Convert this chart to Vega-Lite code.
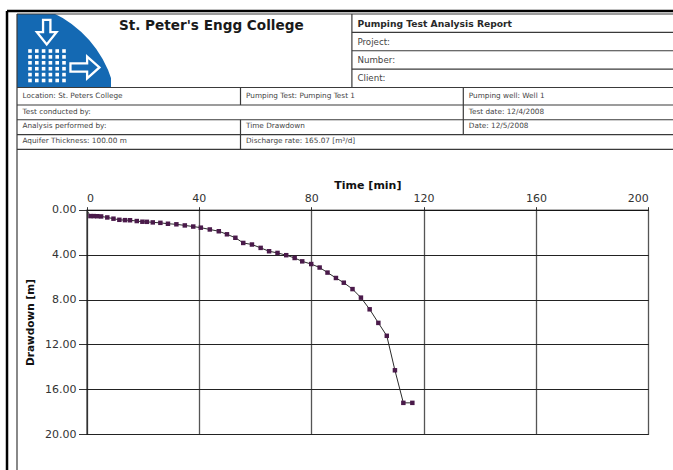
{
  "$schema": "https://vega.github.io/schema/vega-lite/v6.json",
  "width": 673,
  "height": 470,
  "autosize": "none",
  "padding": 0,
  "background": "white",
  "view": {"stroke": null, "fill": null},
  "config": {
    "view": {"stroke": null, "fill": null},
    "font": "DejaVu Sans",
    "axisRight": {"disable": true},
    "axisBottom": {"disable": true}
  },
  "datasets": {
    "drawdown": [
      {"t": 0, "s": 0}, {"t": 1.4, "s": 0.57}, {"t": 2.6, "s": 0.57}, {"t": 3.8, "s": 0.58}, {"t": 5.2, "s": 0.6},
      {"t": 7.4, "s": 0.69}, {"t": 9.6, "s": 0.8}, {"t": 11.7, "s": 0.9}, {"t": 13.7, "s": 0.93}, {"t": 15.5, "s": 0.94},
      {"t": 17.9, "s": 1.01}, {"t": 19.9, "s": 1.07}, {"t": 21.5, "s": 1.08}, {"t": 23.6, "s": 1.13}, {"t": 26.3, "s": 1.17},
      {"t": 29, "s": 1.25}, {"t": 32, "s": 1.3}, {"t": 35, "s": 1.4}, {"t": 38, "s": 1.5}, {"t": 40.7, "s": 1.6},
      {"t": 43.9, "s": 1.76}, {"t": 47.1, "s": 1.92}, {"t": 50, "s": 2.19}, {"t": 53, "s": 2.5}, {"t": 55.8, "s": 2.96},
      {"t": 58.9, "s": 3.1}, {"t": 62, "s": 3.4}, {"t": 65, "s": 3.7}, {"t": 68, "s": 3.85}, {"t": 71.1, "s": 4.05},
      {"t": 74.1, "s": 4.3}, {"t": 76.8, "s": 4.6}, {"t": 80, "s": 4.84}, {"t": 83, "s": 5.15}, {"t": 85.8, "s": 5.6},
      {"t": 88.8, "s": 6.08}, {"t": 91.6, "s": 6.5}, {"t": 94.7, "s": 7.07}, {"t": 97.7, "s": 7.83}, {"t": 100.8, "s": 8.87},
      {"t": 103.9, "s": 10.08}, {"t": 106.9, "s": 11.23}, {"t": 109.8, "s": 14.3}, {"t": 112.8, "s": 17.2}, {"t": 116, "s": 17.2}
    ],
    "logo": [{"name": "logo"}],
    "dots": [
      {"col": 0, "row": 0}, {"col": 1, "row": 0}, {"col": 2, "row": 0}, {"col": 3, "row": 0}, {"col": 4, "row": 0}, {"col": 5, "row": 0},
      {"col": 0, "row": 1}, {"col": 1, "row": 1}, {"col": 2, "row": 1}, {"col": 3, "row": 1}, {"col": 4, "row": 1}, {"col": 5, "row": 1},
      {"col": 0, "row": 2}, {"col": 1, "row": 2}, {"col": 2, "row": 2}, {"col": 3, "row": 2}, {"col": 4, "row": 2}, {"col": 5, "row": 2},
      {"col": 0, "row": 3}, {"col": 1, "row": 3}, {"col": 2, "row": 3}, {"col": 3, "row": 3}, {"col": 4, "row": 3}, {"col": 5, "row": 3},
      {"col": 0, "row": 4}, {"col": 1, "row": 4}, {"col": 2, "row": 4}, {"col": 3, "row": 4}, {"col": 4, "row": 4}, {"col": 5, "row": 4},
      {"col": 0, "row": 5}, {"col": 1, "row": 5}, {"col": 2, "row": 5}, {"col": 3, "row": 5}, {"col": 4, "row": 5}, {"col": 5, "row": 5}
    ],
    "cells": [
      {"part": "title", "c": 0.456, "r": 0.63, "label": "St. Peter's Engg College"},
      {"part": "heading", "c": 1.5, "r": 0.56, "label": "Pumping Test Analysis Report"},
      {"part": "block", "c": 1.5, "r": 1.5, "label": "Project:"},
      {"part": "block", "c": 1.5, "r": 2.5, "label": "Number:"},
      {"part": "block", "c": 1.5, "r": 3.5, "label": "Client:"},
      {"part": "grid", "c": 0, "r": 4.48, "label": "Location: St. Peters College"},
      {"part": "grid", "c": 1, "r": 4.48, "label": "Pumping Test: Pumping Test 1"},
      {"part": "grid", "c": 2, "r": 4.48, "label": "Pumping well: Well 1"},
      {"part": "grid", "c": 0, "r": 5.45, "label": "Test conducted by:"},
      {"part": "grid", "c": 2, "r": 5.45, "label": "Test date: 12/4/2008"},
      {"part": "grid", "c": 0, "r": 6.45, "label": "Analysis performed by:"},
      {"part": "grid", "c": 1, "r": 6.45, "label": "Time Drawdown"},
      {"part": "grid", "c": 2, "r": 6.45, "label": "Date: 12/5/2008"},
      {"part": "grid", "c": 0, "r": 7.45, "label": "Aquifer Thickness: 100.00 m"},
      {"part": "grid", "c": 1, "r": 7.45, "label": "Discharge rate: 165.07 [m³/d]"}
    ],
    "hlines": [
      {"kind": "frame", "c0": -0.0447, "c1": 2.886, "r": -0.16},
      {"kind": "grid", "c0": 0, "c1": 2.886, "r": 0},
      {"kind": "grid", "c0": 1.5, "c1": 2.886, "r": 1},
      {"kind": "grid", "c0": 1.5, "c1": 2.886, "r": 2},
      {"kind": "grid", "c0": 1.5, "c1": 2.886, "r": 3},
      {"kind": "grid", "c0": 0, "c1": 2.886, "r": 4},
      {"kind": "grid", "c0": 0, "c1": 2.886, "r": 5},
      {"kind": "grid", "c0": 0, "c1": 2.886, "r": 6},
      {"kind": "grid", "c0": 0, "c1": 2.886, "r": 7},
      {"kind": "grid", "c0": 0, "c1": 2.886, "r": 8}
    ],
    "vlines": [
      {"kind": "frame", "c": -0.0447, "r0": -0.16, "r1": 30},
      {"kind": "grid", "c": 0, "r0": 0, "r1": 30},
      {"kind": "grid", "c": 1.5, "r0": 0, "r1": 4},
      {"kind": "grid", "c": 1, "r0": 4, "r1": 5},
      {"kind": "grid", "c": 1, "r0": 6, "r1": 8},
      {"kind": "grid", "c": 2, "r0": 4, "r1": 7}
    ]
  },
  "layer": [
    {
      "layer": [
        {
          "data": {"name": "logo"},
          "mark": {"type": "rect", "color": "#1469b3"},
          "encoding": {
            "x": {"datum": 0, "type": "quantitative", "scale": {"domain": [0, 1, 2, 3], "range": [17, 240.5, 463.3, 700], "nice": false, "zero": false}, "axis": null},
            "x2": {"datum": 0.4206},
            "y": {"datum": 0, "type": "quantitative", "scale": {"domain": [0, 4, 5, 8, 30], "range": [14, 87.5, 105, 149.3, 470], "nice": false, "zero": false}, "axis": null},
            "y2": {"datum": 4}
          }
        },
        {
          "data": {"name": "logo"},
          "mark": {"type": "arc", "color": "white", "innerRadius": 112, "outerRadius": 148, "theta": 0.43, "theta2": 1.27},
          "encoding": {
            "x": {"datum": -0.0537, "type": "quantitative", "scale": {"domain": [0, 1, 2, 3], "range": [17, 240.5, 463.3, 700], "nice": false, "zero": false}, "axis": null},
            "y": {"datum": 5.61, "type": "quantitative", "scale": {"domain": [0, 4, 5, 8, 30], "range": [14, 87.5, 105, 149.3, 470], "nice": false, "zero": false}, "axis": null}
          }
        },
        {
          "data": {"name": "logo"},
          "mark": {"type": "point", "shape": "M -0.3 -1 L 0.3 -1 L 0.3 0 L 0.8 0 L 0 1 L -0.8 0 L -0.3 0 Z", "size": 600, "filled": false, "color": "white", "strokeWidth": 2.3, "opacity": 1},
          "encoding": {
            "x": {"datum": 0.133, "type": "quantitative", "scale": {"domain": [0, 1, 2, 3], "range": [17, 240.5, 463.3, 700], "nice": false, "zero": false}, "axis": null},
            "y": {"datum": 0.99, "type": "quantitative", "scale": {"domain": [0, 4, 5, 8, 30], "range": [14, 87.5, 105, 149.3, 470], "nice": false, "zero": false}, "axis": null}
          }
        },
        {
          "data": {"name": "logo"},
          "mark": {"type": "point", "shape": "M -1 -0.28 L 0.15 -0.28 L 0.15 -0.75 L 1 0 L 0.15 0.75 L 0.15 0.28 L -1 0.28 Z", "size": 840, "filled": false, "color": "white", "strokeWidth": 2.3, "opacity": 1},
          "encoding": {
            "x": {"datum": 0.304, "type": "quantitative", "scale": {"domain": [0, 1, 2, 3], "range": [17, 240.5, 463.3, 700], "nice": false, "zero": false}, "axis": null},
            "y": {"datum": 2.91, "type": "quantitative", "scale": {"domain": [0, 4, 5, 8, 30], "range": [14, 87.5, 105, 149.3, 470], "nice": false, "zero": false}, "axis": null}
          }
        },
        {
          "data": {"name": "hlines"},
          "transform": [{"filter": "datum.kind == 'grid'"}],
          "mark": {"type": "rule", "color": "#3a3a3a", "strokeWidth": 1.2},
          "encoding": {
            "x": {"field": "c0", "type": "quantitative", "scale": {"domain": [0, 1, 2, 3], "range": [17, 240.5, 463.3, 700], "nice": false, "zero": false}, "axis": null},
            "x2": {"field": "c1"},
            "y": {"field": "r", "type": "quantitative", "scale": {"domain": [0, 4, 5, 8, 30], "range": [14, 87.5, 105, 149.3, 470], "nice": false, "zero": false}, "axis": null}
          }
        },
        {
          "data": {"name": "hlines"},
          "transform": [{"filter": "datum.kind == 'frame'"}],
          "mark": {"type": "rule", "color": "#000000", "strokeWidth": 2.5},
          "encoding": {
            "x": {"field": "c0", "type": "quantitative", "scale": {"domain": [0, 1, 2, 3], "range": [17, 240.5, 463.3, 700], "nice": false, "zero": false}, "axis": null},
            "x2": {"field": "c1"},
            "y": {"field": "r", "type": "quantitative", "scale": {"domain": [0, 4, 5, 8, 30], "range": [14, 87.5, 105, 149.3, 470], "nice": false, "zero": false}, "axis": null}
          }
        },
        {
          "data": {"name": "vlines"},
          "transform": [{"filter": "datum.kind == 'grid'"}],
          "mark": {"type": "rule", "color": "#3a3a3a", "strokeWidth": 1.2},
          "encoding": {
            "x": {"field": "c", "type": "quantitative", "scale": {"domain": [0, 1, 2, 3], "range": [17, 240.5, 463.3, 700], "nice": false, "zero": false}, "axis": null},
            "y": {"field": "r0", "type": "quantitative", "scale": {"domain": [0, 4, 5, 8, 30], "range": [14, 87.5, 105, 149.3, 470], "nice": false, "zero": false}, "axis": null},
            "y2": {"field": "r1"}
          }
        },
        {
          "data": {"name": "vlines"},
          "transform": [{"filter": "datum.kind == 'frame'"}],
          "mark": {"type": "rule", "color": "#000000", "strokeWidth": 2.5},
          "encoding": {
            "x": {"field": "c", "type": "quantitative", "scale": {"domain": [0, 1, 2, 3], "range": [17, 240.5, 463.3, 700], "nice": false, "zero": false}, "axis": null},
            "y": {"field": "r0", "type": "quantitative", "scale": {"domain": [0, 4, 5, 8, 30], "range": [14, 87.5, 105, 149.3, 470], "nice": false, "zero": false}, "axis": null},
            "y2": {"field": "r1"}
          }
        },
        {
          "data": {"name": "cells"},
          "transform": [{"filter": "datum.part == 'title'"}],
          "mark": {"type": "text", "align": "left", "baseline": "middle", "fontSize": 13.6, "fontWeight": "bold", "color": "#1a1a1a"},
          "encoding": {
            "x": {"field": "c", "type": "quantitative", "scale": {"domain": [0, 1, 2, 3], "range": [17, 240.5, 463.3, 700], "nice": false, "zero": false}, "axis": null},
            "y": {"field": "r", "type": "quantitative", "scale": {"domain": [0, 4, 5, 8, 30], "range": [14, 87.5, 105, 149.3, 470], "nice": false, "zero": false}, "axis": null},
            "text": {"field": "label"}
          }
        },
        {
          "data": {"name": "cells"},
          "transform": [{"filter": "datum.part == 'heading'"}],
          "mark": {"type": "text", "align": "left", "baseline": "middle", "dx": 5.5, "fontSize": 9.2, "fontWeight": "bold", "color": "#2a2a2a"},
          "encoding": {
            "x": {"field": "c", "type": "quantitative", "scale": {"domain": [0, 1, 2, 3], "range": [17, 240.5, 463.3, 700], "nice": false, "zero": false}, "axis": null},
            "y": {"field": "r", "type": "quantitative", "scale": {"domain": [0, 4, 5, 8, 30], "range": [14, 87.5, 105, 149.3, 470], "nice": false, "zero": false}, "axis": null},
            "text": {"field": "label"}
          }
        },
        {
          "data": {"name": "cells"},
          "transform": [{"filter": "datum.part == 'block'"}],
          "mark": {"type": "text", "align": "left", "baseline": "middle", "dx": 5.5, "fontSize": 8.7, "color": "#444444"},
          "encoding": {
            "x": {"field": "c", "type": "quantitative", "scale": {"domain": [0, 1, 2, 3], "range": [17, 240.5, 463.3, 700], "nice": false, "zero": false}, "axis": null},
            "y": {"field": "r", "type": "quantitative", "scale": {"domain": [0, 4, 5, 8, 30], "range": [14, 87.5, 105, 149.3, 470], "nice": false, "zero": false}, "axis": null},
            "text": {"field": "label"}
          }
        },
        {
          "data": {"name": "cells"},
          "transform": [{"filter": "datum.part == 'grid'"}],
          "mark": {"type": "text", "align": "left", "baseline": "middle", "dx": 5.5, "fontSize": 7.3, "color": "#444444"},
          "encoding": {
            "x": {"field": "c", "type": "quantitative", "scale": {"domain": [0, 1, 2, 3], "range": [17, 240.5, 463.3, 700], "nice": false, "zero": false}, "axis": null},
            "y": {"field": "r", "type": "quantitative", "scale": {"domain": [0, 4, 5, 8, 30], "range": [14, 87.5, 105, 149.3, 470], "nice": false, "zero": false}, "axis": null},
            "text": {"field": "label"}
          }
        }
      ]
    },
    {
      "data": {"name": "dots"},
      "mark": {"type": "point", "shape": "square", "filled": true, "color": "white", "size": 13, "opacity": 1},
      "encoding": {
        "x": {"field": "col", "type": "quantitative", "scale": {"domain": [0, 5], "range": [30, 64], "nice": false, "zero": false}, "axis": null},
        "y": {"field": "row", "type": "quantitative", "scale": {"domain": [0, 5], "range": [51, 80.5], "nice": false, "zero": false}, "axis": null}
      }
    },
    {
      "data": {"name": "drawdown"},
      "encoding": {
        "x": {
          "field": "t", "type": "quantitative",
          "scale": {"domain": [0, 200], "range": [86.5, 648.3], "nice": false, "zero": false},
          "axis": {
            "orient": "top", "offset": -209.7, "title": "Time [min]", "values": [0, 40, 80, 120, 160, 200],
            "grid": true, "gridColor": "#555555", "gridWidth": 1.3, "gridOpacity": 1,
            "domainColor": "#111111", "domainWidth": 1, "tickColor": "#333333", "tickSize": 3,
            "labelFontSize": 11, "labelColor": "#333333", "labelPadding": 3.5, "labelFont": "DejaVu Sans",
            "titleFontSize": 11, "titleFontWeight": "bold", "titleColor": "#111111", "titlePadding": 2, "titleFont": "DejaVu Sans"
          }
        },
        "y": {
          "field": "s", "type": "quantitative",
          "scale": {"domain": [0, 20], "range": [209.7, 434.3], "nice": false, "zero": false},
          "axis": {
            "orient": "left", "offset": -86.5, "title": "Drawdown [m]", "values": [0, 4, 8, 12, 16, 20], "format": ".2f",
            "grid": true, "gridColor": "#222222", "gridWidth": 1, "gridOpacity": 1,
            "domainColor": "#111111", "domainWidth": 1, "tickColor": "#333333", "tickSize": 8,
            "labelFontSize": 11, "labelColor": "#333333", "labelPadding": 2.5, "labelFont": "DejaVu Sans",
            "titleFontSize": 10.5, "titleFontWeight": "bold", "titleColor": "#111111", "titlePadding": 9, "titleFont": "DejaVu Sans"
          }
        }
      },
      "layer": [
        {"mark": {"type": "line", "color": "#2a2a2a", "strokeWidth": 1}},
        {
          "transform": [{"filter": "datum.t > 0"}],
          "mark": {"type": "point", "shape": "square", "filled": true, "size": 20, "color": "#4a1a4a", "opacity": 1}
        }
      ]
    }
  ],
  "resolve": {"scale": {"x": "independent", "y": "independent"}}
}
